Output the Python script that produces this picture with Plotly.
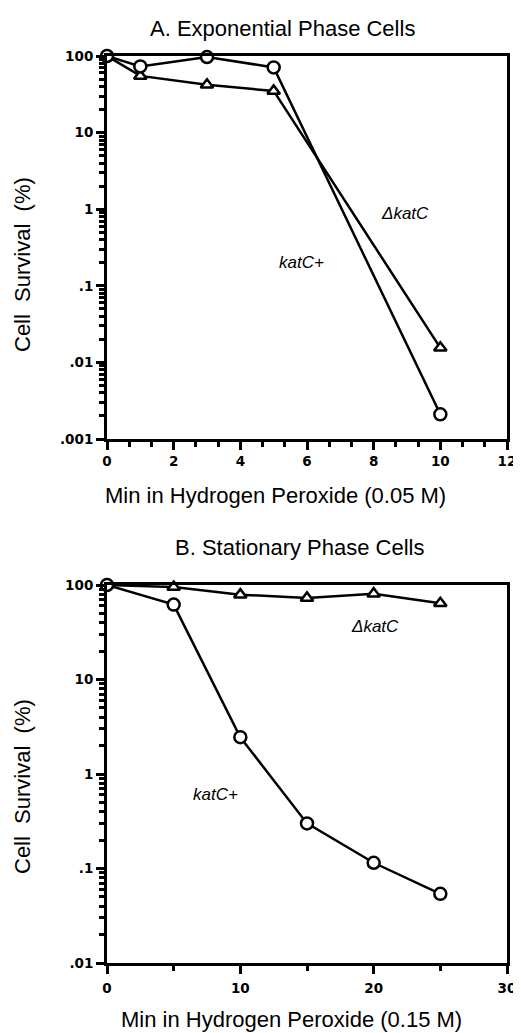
import numpy as np
import plotly.graph_objects as go
from plotly.subplots import make_subplots

# Panel A: exponential phase cells (0.05 M H2O2)
a_time = [0, 1, 3, 5, 10]
a_katc_plus = [100, 73, 97, 71, 0.0021]
a_delta_katc = [100, 55, 42, 35, 0.0155]

# Panel B: stationary phase cells (0.15 M H2O2)
b_time = [0, 5, 10, 15, 20, 25]
b_katc_plus = [100, 62, 2.45, 0.30, 0.115, 0.054]
b_delta_katc = [100, 95, 79, 73, 81, 64]

y_tickvals = [0.001, 0.01, 0.1, 1, 10, 100]
y_ticktext = [".001", ".01", ".1", "1", "10", "100"]

OFF = 8  # default page body margin
W, H = 521 - OFF, 1033 - OFF
L, R = 107 - OFF, 14

def py(p):
    return 1 - (p - OFF) / H

def px(p):
    return (p - OFF - L) / (W - L - R)

fig = make_subplots(rows=2, cols=1)

line = dict(color="black", width=2.5)
circ = dict(symbol="circle", size=12, color="white", line=dict(color="black", width=2.5))
tri = dict(symbol="triangle-up", size=11, color="white", line=dict(color="black", width=2.5))

fig.add_trace(go.Scatter(x=a_time, y=a_delta_katc, mode="lines+markers", line=line, marker=tri, cliponaxis=False), row=1, col=1)
fig.add_trace(go.Scatter(x=a_time, y=a_katc_plus, mode="lines+markers", line=line, marker=circ, cliponaxis=False), row=1, col=1)
fig.add_trace(go.Scatter(x=b_time, y=b_delta_katc, mode="lines+markers", line=line, marker=tri, cliponaxis=False), row=2, col=1)
fig.add_trace(go.Scatter(x=b_time, y=b_katc_plus, mode="lines+markers", line=line, marker=circ, cliponaxis=False), row=2, col=1)

tickfont = dict(family="DejaVu Sans", size=13.5, color="black", weight="bold")
common = dict(showline=True, linecolor="black", linewidth=3, mirror=True, ticks="outside",
              ticklen=8, tickwidth=2.5, tickcolor="black", showgrid=False, zeroline=False,
              tickfont=tickfont, automargin=False)
minor_tick = dict(ticks="outside", ticklen=5, tickwidth=2.5, tickcolor="black", showgrid=False)

fig.update_xaxes(range=[0, 12], tickvals=[0, 2, 4, 6, 8, 10, 12], domain=[0, 1], ticklabelstandoff=0,
                 minor=dict(dtick=2/3, tick0=0, **minor_tick), **common, row=1, col=1)
fig.update_xaxes(range=[0, 30], tickvals=[0, 10, 20, 30], domain=[0, 1], ticklabelstandoff=3,
                 minor=dict(dtick=5, tick0=0, **minor_tick), **common, row=2, col=1)
fig.update_yaxes(type="log", range=[-3, 2], tickvals=y_tickvals, ticktext=y_ticktext,
                 domain=[py(439), py(56)],
                 minor=dict(dtick="D1", **minor_tick), **common, row=1, col=1)
fig.update_yaxes(type="log", range=[-2, 2], tickvals=y_tickvals[1:], ticktext=y_ticktext[1:],
                 domain=[py(963), py(585)],
                 minor=dict(dtick="D1", **minor_tick), **common, row=2, col=1)

txt = dict(family="Liberation Sans", size=22, color="black")
lab = dict(family="Liberation Sans", size=17, color="black", style="italic")
C = dict(xanchor="center", yanchor="middle", showarrow=False)
ann = []
ann.append(dict(text="A. Exponential Phase Cells", x=px(282), y=py(28), xref="paper", yref="paper", font=txt, **C))
ann.append(dict(text="B. Stationary Phase Cells", x=px(299), y=py(547), xref="paper", yref="paper", font=txt, **C))
ann.append(dict(text="Min in Hydrogen Peroxide (0.05 M)", x=px(275), y=py(495), xref="paper", yref="paper", font=txt, **C))
ann.append(dict(text="Min in Hydrogen Peroxide (0.15 M)", x=px(291), y=py(1019), xref="paper", yref="paper", font=txt, **C))
ytitle = "Cell\u00a0\u00a0Survival\u00a0\u00a0(%)"
ann.append(dict(text=ytitle, x=px(22), y=py(265), xref="paper", yref="paper", font=txt, textangle=-90, **C))
ann.append(dict(text=ytitle, x=px(22), y=py(787), xref="paper", yref="paper", font=txt, textangle=-90, **C))
ann.append(dict(text="\u0394katC", x=8.94, y=np.log10(0.89), xref="x", yref="y", font=lab, **C))
ann.append(dict(text="katC+", x=5.82, y=np.log10(0.2), xref="x", yref="y", font=lab, **C))
ann.append(dict(text="\u0394katC", x=20.1, y=np.log10(36), xref="x2", yref="y2", font=lab, **C))
ann.append(dict(text="katC+", x=8.15, y=np.log10(0.6), xref="x2", yref="y2", font=lab, **C))

fig.update_layout(template="none", width=W, height=H, margin=dict(l=L, r=R, t=0, b=0),
                  paper_bgcolor="white", plot_bgcolor="white", showlegend=False,
                  annotations=ann)

fig.write_html("out.html")
